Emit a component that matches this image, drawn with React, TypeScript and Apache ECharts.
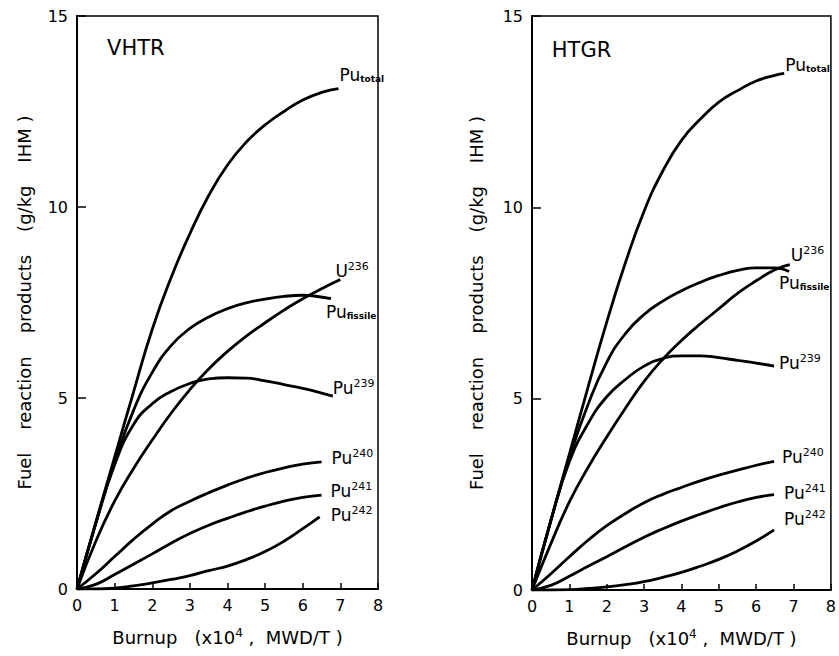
import React, { useEffect, useRef } from "react";
import * as echarts from "echarts";

// ---------- data (burnup x10^4 MWD/T, g/kg IHM) ----------
const burnupTicks = [0, 1, 2, 3, 4, 5, 6, 7, 8];
const valueTicks = [0, 5, 10, 15];

// VHTR
const vhtrPuTotal = [[0,0],[0.5,1.75],[1,3.45],[1.5,5.15],[2,6.8],[2.5,8.15],[3,9.3],[3.5,10.3],[4,11.1],[4.5,11.7],[5,12.15],[5.5,12.5],[6,12.8],[6.5,13.0],[6.95,13.1]];
const vhtrU236 = [[0,0],[0.5,1.25],[1,2.3],[1.5,3.15],[2,3.9],[2.5,4.6],[3,5.22],[3.5,5.76],[4,6.22],[4.5,6.62],[5,6.97],[5.5,7.3],[6,7.6],[6.5,7.86],[7,8.1]];
const vhtrPuFissile = [[0,0],[0.5,1.72],[1,3.32],[1.5,4.67],[2,5.67],[2.5,6.37],[3,6.82],[3.5,7.12],[4,7.34],[4.5,7.49],[5,7.59],[5.5,7.66],[6,7.69],[6.3,7.67],[6.75,7.6]];
const vhtrPu239 = [[0,0],[0.5,1.72],[1,3.25],[1.5,4.3],[2,4.85],[2.5,5.17],[3,5.38],[3.5,5.5],[4,5.53],[4.5,5.52],[5,5.45],[5.5,5.35],[6,5.25],[6.5,5.13],[6.8,5.05]];
const vhtrPu240 = [[0,0],[0.5,0.4],[1,0.85],[1.5,1.3],[2,1.7],[2.5,2.05],[3,2.3],[3.5,2.52],[4,2.72],[4.5,2.9],[5,3.05],[5.5,3.17],[6,3.27],[6.5,3.33]];
const vhtrPu241 = [[0,0],[0.5,0.12],[1,0.38],[1.5,0.65],[2,0.92],[2.5,1.2],[3,1.45],[3.5,1.67],[4,1.85],[4.5,2.02],[5,2.17],[5.5,2.3],[6,2.4],[6.5,2.46]];
const vhtrPu242 = [[0,0],[0.5,0],[1,0.02],[1.5,0.08],[2,0.16],[2.5,0.25],[3,0.35],[3.5,0.48],[4,0.6],[4.5,0.77],[5,0.98],[5.5,1.25],[6,1.58],[6.45,1.89]];

// HTGR
const htgrPuTotal = [[0,0],[0.5,1.8],[1,3.55],[1.5,5.3],[2,7.0],[2.5,8.55],[3,9.9],[3.5,10.95],[4,11.75],[4.5,12.3],[5,12.75],[5.5,13.05],[6,13.3],[6.5,13.45],[6.75,13.5]];
const htgrU236 = [[0,0],[0.5,1.2],[1,2.3],[1.5,3.2],[2,4.0],[2.5,4.75],[3,5.45],[3.5,6.03],[4,6.52],[4.5,6.95],[5,7.35],[5.5,7.75],[6,8.08],[6.5,8.37],[6.9,8.5]];
const htgrPuFissile = [[0,0],[0.5,1.8],[1,3.45],[1.5,4.85],[2,5.95],[2.5,6.7],[3,7.2],[3.5,7.55],[4,7.82],[4.5,8.04],[5,8.22],[5.5,8.35],[6,8.42],[6.5,8.42],[6.88,8.32]];
const htgrPu239 = [[0,0],[0.5,1.8],[1,3.35],[1.5,4.35],[2,5.05],[2.5,5.5],[3,5.85],[3.5,6.05],[4,6.12],[4.5,6.12],[5,6.07],[5.5,6.0],[6,5.93],[6.48,5.85]];
const htgrPu240 = [[0,0],[0.5,0.42],[1,0.87],[1.5,1.3],[2,1.68],[2.5,2.0],[3,2.28],[3.5,2.5],[4,2.68],[4.5,2.85],[5,3.0],[5.5,3.13],[6,3.26],[6.48,3.36]];
const htgrPu241 = [[0,0],[0.5,0.12],[1,0.36],[1.5,0.62],[2,0.87],[2.5,1.13],[3,1.38],[3.5,1.6],[4,1.8],[4.5,1.98],[5,2.15],[5.5,2.3],[6,2.42],[6.48,2.49]];
const htgrPu242 = [[0,0],[0.5,0],[1,0.01],[1.5,0.04],[2,0.08],[2.5,0.14],[3,0.22],[3.5,0.33],[4,0.46],[4.5,0.62],[5,0.8],[5.5,1.02],[6,1.28],[6.48,1.57]];

const panelNames = ["VHTR", "HTGR"];
const xAxisTitle = "{t|Burnup   (x10}{s|4}{t| ,  MWD/T )}";
const yAxisTitle = "Fuel    reaction    products    (g/kg    IHM )";

// curve labels: [grid, data, text, dx, dy]
const seriesDefs: [number, number[][], string, number, number][] = [
  [0, vhtrPuTotal, "{m|Pu}{sub|total}", 1, -14],
  [0, vhtrU236, "{m|U}{sup|236}", -5, -9],
  [0, vhtrPuFissile, "{m|Pu}{sub|fissile}", -5, 13],
  [0, vhtrPu239, "{m|Pu}{sup|239}", 0, -8],
  [0, vhtrPu240, "{m|Pu}{sup|240}", 10, -4],
  [0, vhtrPu241, "{m|Pu}{sup|241}", 9, -4],
  [0, vhtrPu242, "{m|Pu}{sup|242}", 11, -2],
  [1, htgrPuTotal, "{m|Pu}{sub|total}", 1, -8],
  [1, htgrU236, "{m|U}{sup|236}", 1, -10],
  [1, htgrPuFissile, "{m|Pu}{sub|fissile}", -10, 11],
  [1, htgrPu239, "{m|Pu}{sup|239}", 5, -3],
  [1, htgrPu240, "{m|Pu}{sup|240}", 8, -4],
  [1, htgrPu241, "{m|Pu}{sup|241}", 10, -2],
  [1, htgrPu242, "{m|Pu}{sup|242}", 10, -11],
];

const FONT = "DejaVu Sans";

export default function App() {
  const ref = useRef<HTMLDivElement>(null);
  useEffect(() => {
    if (!ref.current) return;
    const chart = echarts.init(ref.current, null, { renderer: "svg" });
    const grids = [
      { left: 77, top: 16, width: 301, height: 573 },
      { left: 532, top: 16, width: 300, height: 574 },
    ];
    const xAxes = grids.map((_, i) => ({
      gridIndex: i,
      type: "value",
      min: burnupTicks[0],
      max: burnupTicks[burnupTicks.length - 1],
      interval: 1,
      axisLine: { show: true, lineStyle: { color: "#000", width: 2 } },
      axisTick: { show: true, inside: true, length: 6, lineStyle: { color: "#000", width: 1.5 } },
      axisLabel: { color: "#000", fontSize: 16, fontFamily: FONT, margin: 8 },
      splitLine: { show: false },
      name: xAxisTitle,
      nameLocation: "middle",
      nameGap: 38,
      nameTextStyle: {
        rich: {
          t: { fontSize: 18, fontFamily: FONT, color: "#000" },
          s: { fontSize: 12, fontFamily: FONT, color: "#000", padding: [0, 0, 9, 0] },
        },
      },
    }));
    const yAxes = grids.map((_, i) => ({
      gridIndex: i,
      type: "value",
      min: valueTicks[0],
      max: valueTicks[valueTicks.length - 1],
      interval: 5,
      axisLine: { show: true, lineStyle: { color: "#000", width: 2 } },
      axisTick: { show: true, inside: true, length: 9, lineStyle: { color: "#000", width: 1.5 } },
      axisLabel: { color: "#000", fontSize: 16, fontFamily: FONT, margin: 9 },
      splitLine: { show: false },
      name: yAxisTitle,
      nameLocation: "middle",
      nameGap: i === 0 ? 44 : 47,
      nameTextStyle: { fontSize: 18, fontFamily: FONT, color: "#000" },
    }));
    const series = seriesDefs.map(([g, data]) => ({
      type: "line",
      xAxisIndex: g,
      yAxisIndex: g,
      data,
      smooth: 0.5,
      symbol: "none",
      lineStyle: { color: "#000", width: 2.8 },
      silent: true,
    }));
    chart.setOption({
      animation: false,
      backgroundColor: "#fff",
      grid: grids.map((g) => ({ ...g, show: true, borderColor: "#000", borderWidth: 1.5 })),
      xAxis: xAxes,
      yAxis: yAxes,
      series,
    });

    const rich = {
      m: { fontSize: 17, fontFamily: FONT, fill: "#000" },
      sup: { fontSize: 11, fontFamily: FONT, fill: "#000", padding: [0, 0, 9, 0] },
      sub: { fontSize: 9, fontFamily: FONT, fontWeight: "bold", fill: "#000", padding: [8, 0, 0, 0] },
    };
    const graphics: any[] = [];
    seriesDefs.forEach(([g, data, text, dx, dy]) => {
      const end = data[data.length - 1];
      const p = chart.convertToPixel({ gridIndex: g }, end) as number[];
      graphics.push({
        type: "text",
        x: p[0] + dx,
        y: p[1] + dy,
        silent: true,
        style: { text, rich, align: "left", verticalAlign: "middle", fill: "#000" },
      });
    });
    const titlePos = [[0.8, 14.15], [0.53, 14.1]];
    panelNames.forEach((name, g) => {
      const p = chart.convertToPixel({ gridIndex: g }, titlePos[g]) as number[];
      graphics.push({
        type: "text",
        x: p[0],
        y: p[1],
        silent: true,
        style: { text: name, fontSize: 21, fontFamily: FONT, fill: "#000", align: "left", verticalAlign: "middle" },
      });
    });
    chart.setOption({ graphic: graphics });
    return () => chart.dispose();
  }, []);
  return (
    <div
      ref={ref}
      style={{ position: "fixed", left: 0, top: 0, width: 839, height: 656, background: "#fff" }}
    />
  );
}
